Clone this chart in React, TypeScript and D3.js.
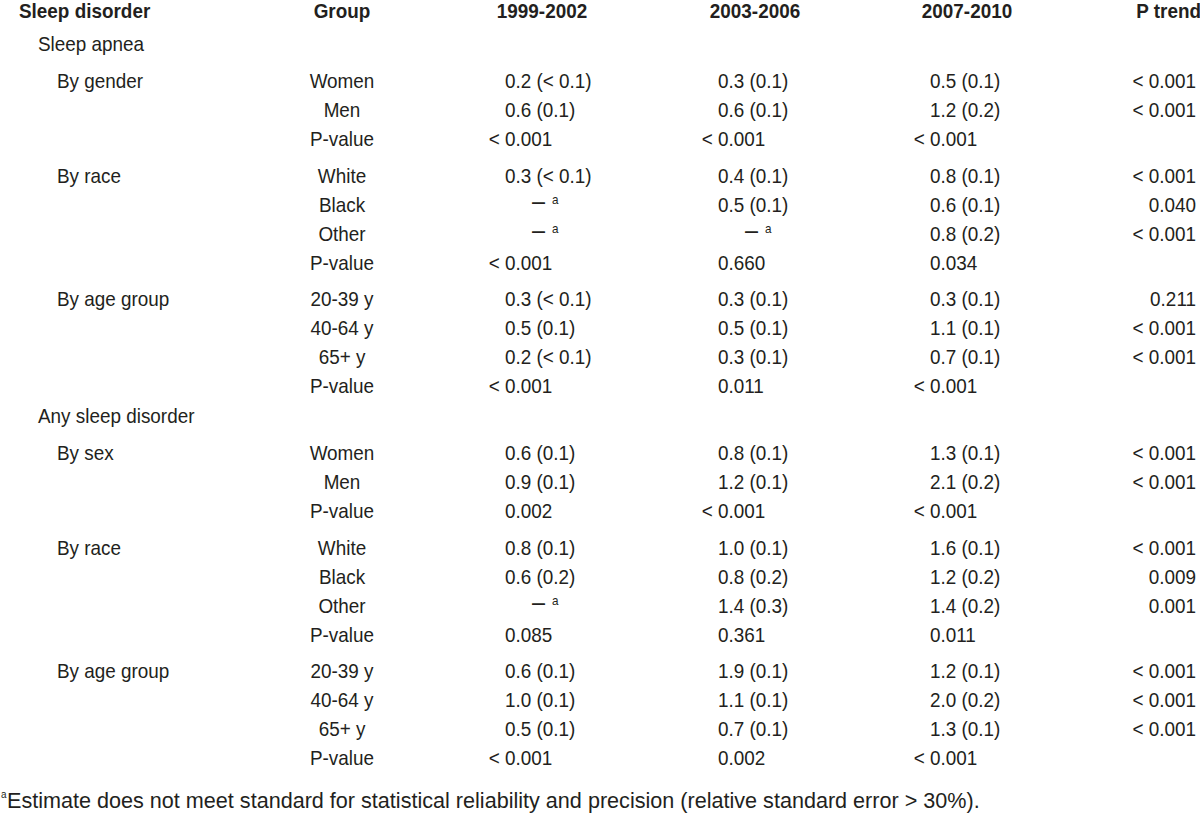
import React, { useEffect, useRef } from "react";
import * as d3 from "d3";

// ---- data ----
const headers = ["Sleep disorder", "Group", "1999-2002", "2003-2006", "2007-2010", "P trend"];
const periods = ["1999-2002", "2003-2006", "2007-2010"];
const disorders = ["Sleep apnea", "Any sleep disorder"];

const apneaSubgroups = ["By gender", "By race", "By age group"];
const anySubgroups = ["By sex", "By race", "By age group"];

const genderGroups = ["Women", "Men"];
const raceGroups = ["White", "Black", "Other"];
const ageGroups = ["20-39 y", "40-64 y", "65+ y"];

// null => estimate not reliable (— a)
const apneaGenderValues = [
  ["0.2 (< 0.1)", "0.3 (0.1)", "0.5 (0.1)"],
  ["0.6 (0.1)", "0.6 (0.1)", "1.2 (0.2)"],
];
const apneaGenderTrend = ["< 0.001", "< 0.001"];
const apneaGenderP = ["< 0.001", "< 0.001", "< 0.001"];

const apneaRaceValues = [
  ["0.3 (< 0.1)", "0.4 (0.1)", "0.8 (0.1)"],
  [null, "0.5 (0.1)", "0.6 (0.1)"],
  [null, null, "0.8 (0.2)"],
];
const apneaRaceTrend = ["< 0.001", "0.040", "< 0.001"];
const apneaRaceP = ["< 0.001", "0.660", "0.034"];

const apneaAgeValues = [
  ["0.3 (< 0.1)", "0.3 (0.1)", "0.3 (0.1)"],
  ["0.5 (0.1)", "0.5 (0.1)", "1.1 (0.1)"],
  ["0.2 (< 0.1)", "0.3 (0.1)", "0.7 (0.1)"],
];
const apneaAgeTrend = ["0.211", "< 0.001", "< 0.001"];
const apneaAgeP = ["< 0.001", "0.011", "< 0.001"];

const anySexValues = [
  ["0.6 (0.1)", "0.8 (0.1)", "1.3 (0.1)"],
  ["0.9 (0.1)", "1.2 (0.1)", "2.1 (0.2)"],
];
const anySexTrend = ["< 0.001", "< 0.001"];
const anySexP = ["0.002", "< 0.001", "< 0.001"];

const anyRaceValues = [
  ["0.8 (0.1)", "1.0 (0.1)", "1.6 (0.1)"],
  ["0.6 (0.2)", "0.8 (0.2)", "1.2 (0.2)"],
  [null, "1.4 (0.3)", "1.4 (0.2)"],
];
const anyRaceTrend = ["< 0.001", "0.009", "0.001"];
const anyRaceP = ["0.085", "0.361", "0.011"];

const anyAgeValues = [
  ["0.6 (0.1)", "1.9 (0.1)", "1.2 (0.1)"],
  ["1.0 (0.1)", "1.1 (0.1)", "2.0 (0.2)"],
  ["0.5 (0.1)", "0.7 (0.1)", "1.3 (0.1)"],
];
const anyAgeTrend = ["< 0.001", "< 0.001", "< 0.001"];
const anyAgeP = ["< 0.001", "0.002", "< 0.001"];

const footnote =
  "Estimate does not meet standard for statistical reliability and precision (relative standard error > 30%).";

// ---- layout / style ----
const W = 1200;
const H = 834;
const FONT = "'Liberation Sans', Arial, sans-serif";
const FS = 21;
const SX = 0.9;
const COLOR = "#231f20";

type Block = {
  label: string;
  groups: string[];
  values: (string | null)[][];
  trend: string[];
  p: string[];
};

const sections: { name: string; blocks: Block[] }[] = [
  {
    name: disorders[0],
    blocks: [
      { label: apneaSubgroups[0], groups: genderGroups, values: apneaGenderValues, trend: apneaGenderTrend, p: apneaGenderP },
      { label: apneaSubgroups[1], groups: raceGroups, values: apneaRaceValues, trend: apneaRaceTrend, p: apneaRaceP },
      { label: apneaSubgroups[2], groups: ageGroups, values: apneaAgeValues, trend: apneaAgeTrend, p: apneaAgeP },
    ],
  },
  {
    name: disorders[1],
    blocks: [
      { label: anySubgroups[0], groups: genderGroups, values: anySexValues, trend: anySexTrend, p: anySexP },
      { label: anySubgroups[1], groups: raceGroups, values: anyRaceValues, trend: anyRaceTrend, p: anyRaceP },
      { label: anySubgroups[2], groups: ageGroups, values: anyAgeValues, trend: anyAgeTrend, p: anyAgeP },
    ],
  },
];

export default function App() {
  const ref = useRef<SVGSVGElement | null>(null);

  useEffect(() => {
    const svg = d3.select(ref.current);
    svg.selectAll("*").remove();

    const valueLeft = d3.scaleOrdinal<string, number>().domain(periods).range([505, 718, 930]);
    const headerCenter = d3.scaleOrdinal<string, number>().domain(periods).range([542, 755, 967]);
    const groupX = 342;
    const trendRight = 1196;
    const indentX = d3.scaleOrdinal<string, number>().domain(["header", "disorder", "sub"]).range([19, 38, 57]);

    const ltWidth = (0.584 + 0.278) * FS * SX;

    const txt = (
      s: string,
      x: number,
      y: number,
      opts: { anchor?: string; bold?: boolean; size?: number; sx?: number } = {}
    ) =>
      svg
        .append("text")
        .attr("transform", `translate(${x},${y}) scale(${opts.sx ?? SX},1)`)
        .attr("text-anchor", opts.anchor || "start")
        .attr("font-family", FONT)
        .attr("font-size", opts.size || FS)
        .attr("font-weight", opts.bold ? "bold" : "normal")
        .attr("fill", COLOR)
        .text(s);

    const missing = (x: number, y: number) => {
      txt("\u2013", x + 27, y - 2, { size: 26 });
      txt("a", x + 47, y - 8, { size: 13 });
    };

    const pText = (s: string, col: string, y: number) => {
      const x0 = valueLeft(col);
      if (s.startsWith("< ")) txt(s, x0 - ltWidth, y);
      else txt(s, x0, y);
    };

    // header
    const headerY = 18;
    txt(headers[0], indentX("header"), headerY, { bold: true });
    txt(headers[1], groupX, headerY, { bold: true, anchor: "middle" });
    periods.forEach((p) => txt(p, headerCenter(p), headerY, { bold: true, anchor: "middle" }));
    txt(headers[5], 1201, headerY, { bold: true, anchor: "end" });

    const STEP = 29;
    const GAP = 36.5;
    let y = 51;
    sections.forEach((sec, si) => {
      if (si > 0) y += 30;
      txt(sec.name, indentX("disorder"), y);
      sec.blocks.forEach((b, bi) => {
        y += bi === 0 ? 37 : GAP;
        txt(b.label, indentX("sub"), y);
        b.groups.forEach((g, gi) => {
          if (gi > 0) y += STEP;
          txt(g, groupX, y, { anchor: "middle" });
          periods.forEach((p, pi) => {
            const v = b.values[gi][pi];
            if (v === null) missing(valueLeft(p), y);
            else txt(v, valueLeft(p), y);
          });
          txt(b.trend[gi], trendRight, y, { anchor: "end" });
        });
        y += STEP;
        txt("P-value", groupX, y, { anchor: "middle" });
        periods.forEach((p, pi) => pText(b.p[pi], p, y));
      });
    });

    // footnote
    const fy = 808;
    txt("a", 1, fy - 10, { size: 11 });
    txt(footnote, 7, fy, { size: 22.5, sx: 0.96 });
  }, []);

  return (
    <div style={{ position: "absolute", left: 0, top: 0 }}>
      <svg ref={ref} width={W} height={H} style={{ display: "block", background: "#fff" }} />
    </div>
  );
}
